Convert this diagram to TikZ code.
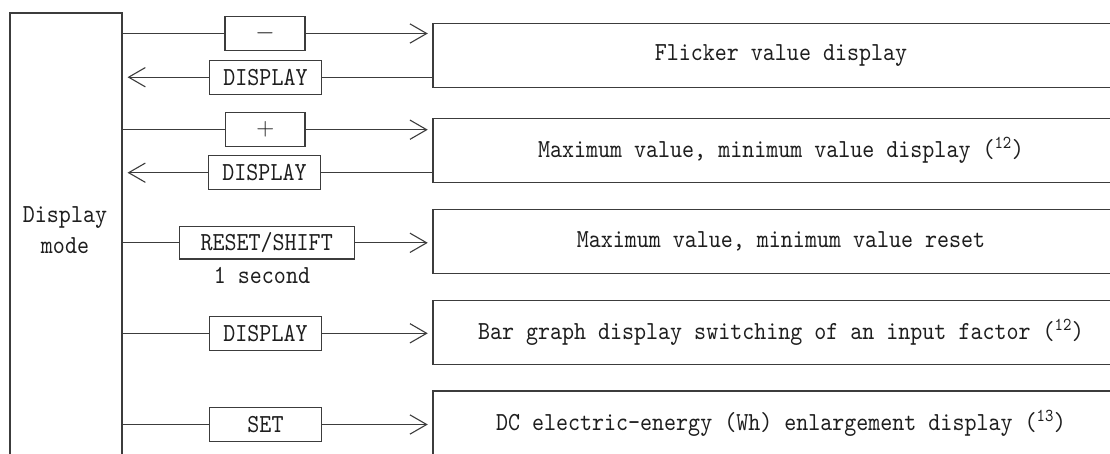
\documentclass[tikz,border=0pt]{standalone}
\usepackage{fontspec}
\newfontfamily\diagfont[FakeStretch=0.88]{lmmono10-regular.otf}
\usetikzlibrary{arrows.meta}
\definecolor{ln}{HTML}{3C3C3C}
\definecolor{tx}{HTML}{1E1E1E}
\begin{document}
\begin{tikzpicture}[x=1pt,y=-1pt,
  every node/.style={font=\fontsize{26}{31}\selectfont\diagfont, text=tx},
  line/.style={draw=ln, line width=1.1pt},
  key/.style={line, rectangle, inner sep=0pt, minimum height=34pt},
  panel/.style={line, rectangle, inner sep=0pt, minimum width=696pt, minimum height=64pt},
  fwd/.style={line, -{Straight Barb[length=16.7pt,width=19.3pt]}, shorten >=4.7pt},
  back/.style={line, -{Straight Barb[length=16.7pt,width=19.3pt]}, shorten >=5pt},
]
\clip (0,0) rectangle (1110,453);
\fill[white] (0,0) rectangle (1110,453);
% left box
\node[line, rectangle, inner sep=0pt, minimum width=112pt, minimum height=460pt] (mode) at (66,243) {};
\node[align=center] (modetxt) at (65,230) {Display\\mode};
% right panels
\node[panel] (p1) at (781,55.3) {Flicker value display};
\node[panel] (p2) at (781,150.5) {Maximum value, minimum value display (\textsuperscript{12})};
\node[panel] (p3) at (781,241.7) {Maximum value, minimum value reset};
\node[panel] (p4) at (781,332.5) {Bar graph display switching of an input factor (\textsuperscript{12})};
\node[panel] (p5) at (781,423) {DC electric-energy (Wh) enlargement display (\textsuperscript{13})};
% keys
\node[key, minimum width=80pt] (minus) at (265,33.5) {$-$};
\node[key, minimum width=112.4pt] (d1) at (265.5,77.2) {DISPLAY};
\node[key, minimum width=79.3pt] (plus) at (265.3,129.7) {$+$};
\node[key, minimum width=112.4pt] (d2) at (264.5,172.7) {DISPLAY};
\node[key, minimum width=174.7pt, minimum height=32.3pt] (reset) at (266.7,242.8) {RESET/SHIFT};
\node[anchor=base] (sec) at (262,283) {1 second};
\node[key, minimum width=112.4pt] (d3) at (265.5,333.3) {DISPLAY};
\node[key, minimum width=112.4pt] (set) at (265.5,424.5) {SET};
% row 1
\draw[line] (mode.east |- minus.west) -- (minus.west);
\draw[fwd] (minus.east) -- (p1.west |- minus.east);
\draw[line] (p1.west |- d1.east) -- (d1.east);
\draw[back] (d1.west) -- (mode.east |- d1.west);
% row 2
\draw[line] (mode.east |- plus.west) -- (plus.west);
\draw[fwd] (plus.east) -- (p2.west |- plus.east);
\draw[line] (p2.west |- d2.east) -- (d2.east);
\draw[back] (d2.west) -- (mode.east |- d2.west);
% row 3
\draw[line] (mode.east |- reset.west) -- (reset.west);
\draw[fwd] (reset.east) -- (p3.west |- reset.east);
% row 4
\draw[line] (mode.east |- d3.west) -- (d3.west);
\draw[fwd] (d3.east) -- (p4.west |- d3.east);
% row 5
\draw[line] (mode.east |- set.west) -- (set.west);
\draw[fwd] (set.east) -- (p5.west |- set.east);
\end{tikzpicture}
\end{document}
